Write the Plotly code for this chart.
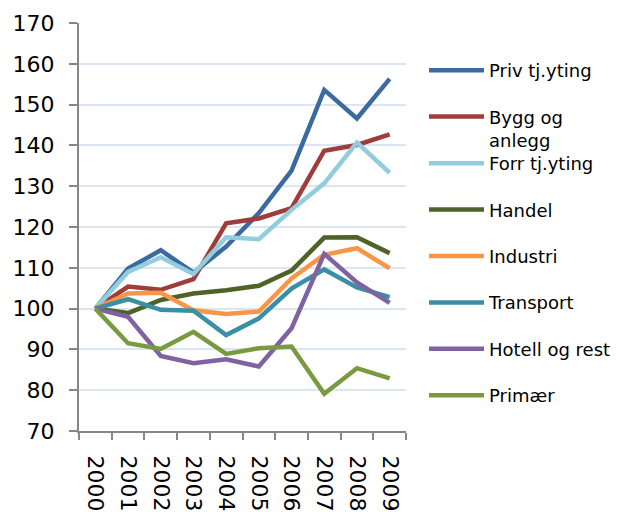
import plotly.graph_objects as go

years = [str(y) for y in range(2000, 2010)]
names = ["Priv tj.yting", "Bygg og<br>anlegg", "Forr tj.yting", "Handel",
         "Industri", "Transport", "Hotell og rest", "Primær"]
priv = [100, 109.8, 114.3, 108.8, 115.2, 123.4, 133.8, 153.6, 146.6, 156.3]
bygg = [100, 105.4, 104.6, 107.2, 120.9, 122.1, 124.6, 138.7, 140.1, 142.7]
forr = [100, 109.0, 112.6, 108.5, 117.5, 117.0, 124.2, 130.7, 140.7, 133.3]
handel = [100, 98.9, 102.1, 103.7, 104.5, 105.6, 109.3, 117.4, 117.5, 113.6]
industri = [100, 103.7, 103.9, 99.6, 98.7, 99.3, 107.4, 113.2, 114.8, 109.9]
transport = [100, 102.3, 99.7, 99.5, 93.5, 97.6, 104.9, 109.6, 105.2, 102.8]
hotell = [100, 98.0, 88.4, 86.6, 87.6, 85.8, 95.2, 113.4, 106.4, 101.4]
primaer = [100, 91.5, 90.1, 94.3, 88.9, 90.3, 90.7, 79.1, 85.4, 82.9]
series = [priv, bygg, forr, handel, industri, transport, hotell, primaer]
colors = ["#3C6A9E", "#9E3D3A", "#93CDDD", "#4F6228",
          "#F79646", "#3A8FA4", "#7F62A1", "#799A41"]

FONT = "DejaVu Sans"
W, H = 618, 512
fig = go.Figure()
for i, (nm, vals, col) in enumerate(zip(names, series, colors)):
    fig.add_trace(go.Scatter(
        x=years, y=vals, name=nm, mode="lines",
        line=dict(color=col, width=4.5),
        legend="legend" if i < 2 else "legend2",
        legendgroup=f"g{i}",
    ))

leg_common = dict(
    font=dict(family=FONT, size=18, color="#000000"),
    bgcolor="rgba(0,0,0,0)", borderwidth=0,
    traceorder="grouped", tracegroupgap=20,
    itemwidth=55, xanchor="left", yanchor="top", valign="top",
    xref="container", yref="container", maxheight=1,
)

fig.update_layout(
    width=W, height=H,
    margin=dict(l=79, r=212, t=23, b=81, autoexpand=False),
    paper_bgcolor="white", plot_bgcolor="white",
    font=dict(family=FONT, color="#000000"),
    showlegend=True,
    legend=dict(x=424 / W, y=1 - 52 / H, **leg_common),
    legend2=dict(x=424 / W, y=1 - 145 / H, **leg_common),
    xaxis=dict(
        type="category", range=[-0.5, 9.5], tickangle=90, automargin=False,
        tickson="boundaries", ticks="outside", ticklen=7, tickwidth=1.5,
        tickcolor="#868686", showline=True, linecolor="#868686", linewidth=2,
        showgrid=False, zeroline=False, ticklabelstandoff=18,
        tickfont=dict(family=FONT, size=22, color="#000000"),
    ),
    yaxis=dict(
        range=[70, 170], dtick=10, tick0=70, automargin=False,
        ticks="outside", ticklen=8, tickwidth=1.5, tickcolor="#868686",
        showline=True, linecolor="#868686", linewidth=2, ticklabelstandoff=10,
        showgrid=True, gridcolor="#DCE5F1", gridwidth=2, zeroline=False,
        tickfont=dict(family=FONT, size=22, color="#000000"),
    ),
)

fig.write_html("out.html", config={"displayModeBar": False},
               post_script="document.body.style.margin='0px';")
